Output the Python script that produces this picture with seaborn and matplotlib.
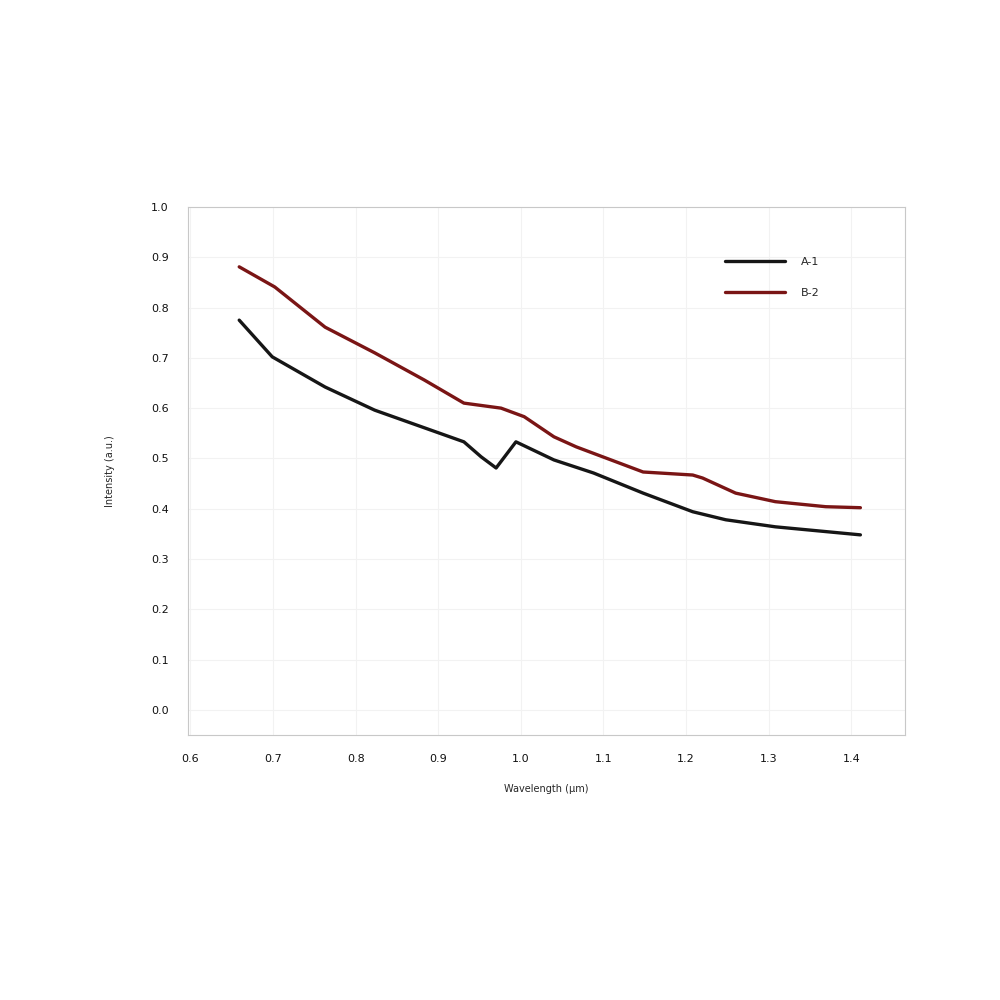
import numpy as np
import pandas as pd
import matplotlib
matplotlib.use("Agg")
import matplotlib.pyplot as plt
import seaborn as sns

# valores
wavelength_a = [0.659, 0.699, 0.763, 0.823, 0.883, 0.931, 0.952, 0.970, 0.994, 1.040,
                1.088, 1.148, 1.208, 1.248, 1.308, 1.411]
signal_a = [0.775, 0.702, 0.642, 0.596, 0.561, 0.533, 0.503, 0.481, 0.533, 0.497,
            0.471, 0.431, 0.394, 0.378, 0.364, 0.348]

wavelength_b = [0.659, 0.702, 0.763, 0.823, 0.883, 0.931, 0.976, 1.004, 1.040, 1.067,
                1.148, 1.208, 1.220, 1.260, 1.308, 1.369, 1.411]
signal_b = [0.881, 0.841, 0.761, 0.710, 0.656, 0.610, 0.600, 0.583, 0.543, 0.523,
            0.473, 0.467, 0.461, 0.431, 0.414, 0.404, 0.402]

series_names = ["A-1", "B-2"]
x_ticks = [0.6, 0.7, 0.8, 0.9, 1.0, 1.1, 1.2, 1.3, 1.4]
y_ticks = [0.0, 0.1, 0.2, 0.3, 0.4, 0.5, 0.6, 0.7, 0.8, 0.9, 1.0]

dados = pd.concat([
    pd.DataFrame({"x": wavelength_a, "y": signal_a, "serie": series_names[0]}),
    pd.DataFrame({"x": wavelength_b, "y": signal_b, "serie": series_names[1]}),
])

sns.set_style("whitegrid", {"grid.color": "#f2f2f2", "axes.edgecolor": "#c8c8c8"})
plt.rcParams['font.family'] = ['DejaVu Sans']

fig = plt.figure(figsize=(10, 10), dpi=100)
ax = fig.add_axes([0.188, 0.265, 0.717, 0.528])

sns.lineplot(data=dados, x="x", y="y", hue="serie", sort=False,
             palette=["#161616", "#7a1515"], linewidth=2.4, ax=ax)

ax.set_xlim(0.597, 1.465)
ax.set_ylim(-0.05, 1.0)
ax.set_xticks(x_ticks)
ax.set_yticks(y_ticks)
ax.set_xticklabels([f"{v:.1f}" for v in x_ticks], fontsize=8, color="#111111")
ax.set_yticklabels([f"{v:.1f}" for v in y_ticks], fontsize=8, color="#111111")
ax.tick_params(axis="both", length=0, pad=14)
ax.set_xlabel("Wavelength (µm)", fontsize=7, labelpad=14)
ax.set_ylabel("Intensity (a.u.)", fontsize=7, labelpad=26)

leg = ax.legend(loc="upper left", bbox_to_anchor=(0.735, 0.925), frameon=False,
                fontsize=8, handlelength=5.4, handletextpad=1.4, labelspacing=1.9)

fig.savefig("out.png", dpi=100)
